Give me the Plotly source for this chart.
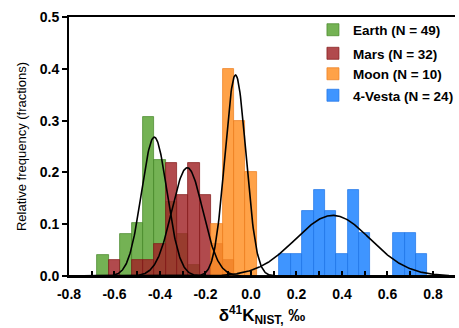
import numpy as np
import plotly.graph_objects as go

# ---- data ----
bin_width = 0.05
earth_bins = [-0.65, -0.55, -0.5, -0.45, -0.4, -0.35, -0.3, -0.25]
earth_counts = [2, 4, 5, 15, 11, 7, 4, 1]
mars_bins = [-0.6, -0.5, -0.45, -0.4, -0.35, -0.3, -0.25, -0.2, -0.15, -0.1]
mars_counts = [1, 1, 1, 2, 7, 5, 7, 5, 2, 1]
moon_bins = [-0.15, -0.1, -0.05, 0.0]
moon_counts = [1, 4, 3, 2]
vesta_bins = [0.15, 0.2, 0.25, 0.3, 0.35, 0.4, 0.45, 0.5, 0.65, 0.7, 0.75]
vesta_counts = [1, 1, 3, 4, 3, 1, 4, 2, 2, 2, 1]

names = ["Earth (N = 49)", "Mars (N = 32)", "Moon (N = 10)", "4-Vesta (N = 24)"]
sample_sizes = [49, 32, 10, 24]

# Gaussian fit parameters (amplitude, mean, sd)
earth_fit = (0.268, -0.425, 0.056)
mars_fit = (0.209, -0.280, 0.068)
moon_fit = (0.388, -0.068, 0.046)
vesta_fit = (0.117, 0.360, 0.165)

x_major_vals = [-0.8, -0.6, -0.4, -0.2, 0.0, 0.2, 0.4, 0.6, 0.8]
x_major_text = ["-0.8", "-0.6", "-0.4", "-0.2", "0.0", "0.2", "0.4", "0.6", "0.8"]
x_minor_vals = [-0.7, -0.5, -0.3, -0.1, 0.1, 0.3, 0.5, 0.7]
y_tick_vals = [0.0, 0.1, 0.2, 0.3, 0.4, 0.5]
y_tick_text = ["0.0", "0.1", "0.2", "0.3", "0.4", "0.5"]

fill_colors = ["rgba(92,164,54,0.85)", "rgba(160,34,38,0.82)", "rgba(255,146,40,0.85)", "rgba(36,134,255,0.88)"]
edge_colors = ["rgba(70,135,40,0.9)", "rgba(130,25,25,0.9)", "rgba(235,125,30,0.9)", "rgba(30,115,230,0.9)"]

FONT = "Liberation Sans, Arial, sans-serif"
legend_ids = ["legend", "legend2", "legend3", "legend4"]
legend_y = [0.95, 0.859, 0.78, 0.697]

fig = go.Figure()
series = [(earth_bins, earth_counts), (mars_bins, mars_counts), (moon_bins, moon_counts), (vesta_bins, vesta_counts)]
for (bins, counts), n, name, fc, ec, lid in zip(series, sample_sizes, names, fill_colors, edge_colors, legend_ids):
    fig.add_trace(go.Bar(
        x=bins, y=[c / n for c in counts], width=bin_width, name=name, legend=lid,
        marker=dict(color=fc, line=dict(color=ec, width=0.8)),
    ))

xs = np.linspace(-0.8, 0.9, 700)
for amp, mu, sd in [earth_fit, mars_fit, moon_fit, vesta_fit]:
    fig.add_trace(go.Scatter(
        x=xs, y=amp * np.exp(-0.5 * ((xs - mu) / sd) ** 2), mode="lines",
        line=dict(color="black", width=1.6), showlegend=False, hoverinfo="skip",
    ))

legend_style = dict(
    x=0.632, xanchor="left", yanchor="middle",
    font=dict(family=FONT, size=13.5, weight="bold", color="black"),
    bgcolor="rgba(0,0,0,0)", itemwidth=30,
)
legend_layout = {lid: dict(legend_style, y=ly) for lid, ly in zip(legend_ids, legend_y)}

fig.update_layout(
    width=459, height=328,
    margin=dict(l=69, r=0, t=17, b=52),
    paper_bgcolor="white", plot_bgcolor="white",
    barmode="overlay", bargap=0,
    font=dict(family=FONT, color="black"),
    showlegend=True,
    xaxis=dict(
        range=[-0.8, 0.897], tickmode="array", tickvals=x_major_vals, ticktext=x_major_text,
        ticks="inside", ticklen=5, tickwidth=1.5, tickcolor="black",
        minor=dict(tickmode="array", tickvals=x_minor_vals, ticks="inside", ticklen=5,
                   tickwidth=1.5, tickcolor="black", showgrid=False),
        showline=True, linecolor="black", linewidth=2, mirror=True,
        showgrid=False, zeroline=False,
        tickfont=dict(family=FONT, size=14, weight="bold", color="black"),
        ticklabelstandoff=4,
        title=dict(text="δ<sup>41</sup>K<sub>NIST,</sub> ‰",
                   font=dict(family=FONT, size=17, weight="bold", color="black"), standoff=8),
    ),
    yaxis=dict(
        range=[0, 0.5], tickmode="array", tickvals=y_tick_vals, ticktext=y_tick_text,
        ticks="outside", ticklen=5, tickwidth=1.5, tickcolor="black",
        showline=True, linecolor="black", linewidth=2,
        showgrid=False, zeroline=False,
        tickfont=dict(family=FONT, size=14, weight="bold", color="black"),
        title=dict(text="Relative frequency (fractions)",
                   font=dict(family=FONT, size=13, color="black"), standoff=10),
    ),
    **legend_layout,
)

fig.write_html("out.html", config={"displayModeBar": False},
               post_script="document.body.style.margin='0';")
